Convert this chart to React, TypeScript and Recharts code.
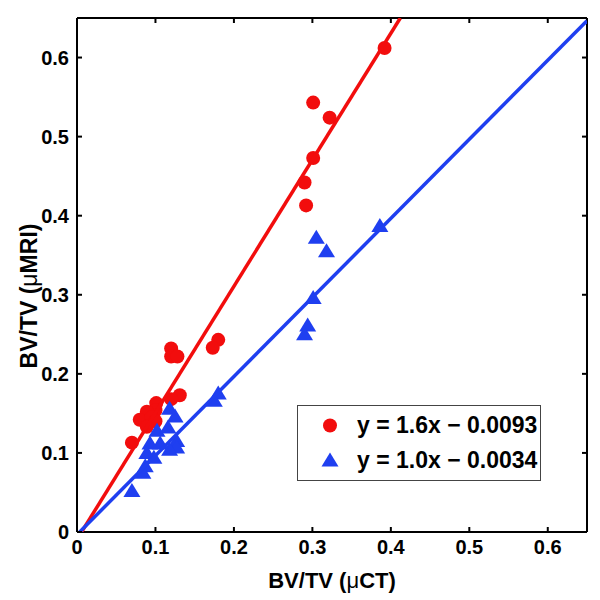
import { ScatterChart, Scatter, XAxis, YAxis, Legend } from "recharts";

const RED = "#f20d0d";
const BLUE = "#1f3ff0";
const FONT = "'Liberation Sans', Arial, sans-serif";

const xTicks = [0, 0.1, 0.2, 0.3, 0.4, 0.5, 0.6];
const yTicks = [0, 0.1, 0.2, 0.3, 0.4, 0.5, 0.6];

// BV/TV (µCT) vs BV/TV (µMRI), red circles
const mriPoints: [number, number][] = [
  [0.392, 0.612],
  [0.301, 0.543],
  [0.322, 0.524],
  [0.301, 0.473],
  [0.29, 0.442],
  [0.292, 0.413],
  [0.18, 0.243],
  [0.173, 0.233],
  [0.12, 0.232],
  [0.12, 0.222],
  [0.128, 0.222],
  [0.131, 0.173],
  [0.12, 0.168],
  [0.101, 0.163],
  [0.1, 0.154],
  [0.089, 0.152],
  [0.08, 0.142],
  [0.095, 0.145],
  [0.1, 0.14],
  [0.089, 0.133],
  [0.07, 0.113],
];

// blue triangles
const otherPoints: [number, number][] = [
  [0.386, 0.387],
  [0.305, 0.372],
  [0.318, 0.355],
  [0.301, 0.296],
  [0.294, 0.261],
  [0.29, 0.25],
  [0.18, 0.175],
  [0.175, 0.166],
  [0.118, 0.156],
  [0.125, 0.146],
  [0.102, 0.128],
  [0.116, 0.132],
  [0.127, 0.115],
  [0.127, 0.107],
  [0.118, 0.104],
  [0.106, 0.112],
  [0.093, 0.112],
  [0.089, 0.1],
  [0.098, 0.094],
  [0.087, 0.083],
  [0.084, 0.075],
  [0.07, 0.052],
];

const redFit = { slope: 1.6, intercept: -0.0093, label: "y = 1.6x \u2212 0.0093" };
const blueFit = { slope: 1.0, intercept: -0.0034, label: "y = 1.0x \u2212 0.0034" };

const MAX = 0.65;
const TICK_LEN = 5;
const BOTTOM_GAP = 7;
const LEFT_GAP = 8;

function fitSegment(f: { slope: number; intercept: number }) {
  const x0 = -f.intercept / f.slope;
  const x1 = Math.min(MAX, (MAX - f.intercept) / f.slope);
  return [
    { x: x0, y: 0 },
    { x: x1, y: f.slope * x1 + f.intercept },
  ];
}

const toXY = (pts: [number, number][]) => pts.map(([x, y]) => ({ x, y }));

function Circle(p: any) {
  if (p.cx == null) return <g />;
  return <circle cx={p.cx} cy={p.cy} r={7} fill={RED} />;
}

function Triangle(p: any) {
  if (p.cx == null) return <g />;
  const { cx, cy } = p;
  return <polygon points={`${cx},${cy - 8} ${cx + 8.5},${cy + 6} ${cx - 8.5},${cy + 6}`} fill={BLUE} />;
}

const Empty = () => <g />;

const fmt = (v: number) => (v === 0 ? "0" : v.toFixed(1));

// inside tick marks + labels (MATLAB style)
function BottomTick(p: any) {
  const { x, y, payload } = p;
  const axisY = y - BOTTOM_GAP;
  return (
    <g>
      <line x1={x} x2={x} y1={axisY} y2={axisY - TICK_LEN} stroke="#000" strokeWidth={2} />
      <text x={x} y={y} dy="0.75em" textAnchor="middle" fontFamily={FONT} fontWeight="bold" fontSize={20} fill="#000">
        {fmt(payload.value)}
      </text>
    </g>
  );
}

function LeftTick(p: any) {
  const { x, y, payload } = p;
  const axisX = x + LEFT_GAP;
  return (
    <g>
      <line x1={axisX} x2={axisX + TICK_LEN} y1={y} y2={y} stroke="#000" strokeWidth={2} />
      <text x={x} y={y} dy="0.36em" textAnchor="end" fontFamily={FONT} fontWeight="bold" fontSize={20} fill="#000">
        {fmt(payload.value)}
      </text>
    </g>
  );
}

function TopTick(p: any) {
  const { x, y } = p;
  return <line x1={x} x2={x} y1={y} y2={y + TICK_LEN} stroke="#000" strokeWidth={2} />;
}

function RightTick(p: any) {
  const { x, y } = p;
  return <line x1={x} x2={x - TICK_LEN} y1={y} y2={y} stroke="#000" strokeWidth={2} />;
}

function YTitle() {
  const cx = 21;
  const cy = 288;
  return (
    <text
      x={cx}
      y={cy}
      transform={`rotate(-90, ${cx}, ${cy})`}
      textAnchor="middle"
      dominantBaseline="central"
      fontFamily={FONT}
      fontWeight="bold"
      fontSize={23}
      fill="#000"
    >
      BV/TV (<tspan fontWeight="normal">μ</tspan>MRI)
    </text>
  );
}

function XTitle() {
  return (
    <text
      x={324}
      y={572}
      textAnchor="middle"
      dominantBaseline="central"
      fontFamily={FONT}
      fontWeight="bold"
      fontSize={22}
      fill="#000"
    >
      BV/TV (<tspan fontWeight="normal">μ</tspan>CT)
    </text>
  );
}

function FitLegend() {
  const rows = [
    { fit: redFit, marker: "circle" },
    { fit: blueFit, marker: "triangle" },
  ];
  return (
    <div
      style={{
        width: 242,
        height: 72,
        border: "1px solid #444",
        background: "#fff",
        boxSizing: "content-box",
        paddingTop: 2,
      }}
    >
      {rows.map((r) => (
        <div key={r.fit.label} style={{ display: "flex", alignItems: "center", height: 35 }}>
          <svg width={59} height={35} style={{ flex: "none" }}>
            {r.marker === "circle" ? (
              <circle cx={32} cy={17.5} r={7} fill={RED} />
            ) : (
              <polygon points="32,9.5 40.5,23.5 23.5,23.5" fill={BLUE} />
            )}
          </svg>
          <span style={{ fontFamily: FONT, fontWeight: "bold", fontSize: 23, color: "#000", whiteSpace: "nowrap" }}>
            {r.fit.label}
          </span>
        </div>
      ))}
    </div>
  );
}

const frame = { stroke: "#000", strokeWidth: 2 };

export default function App() {
  return (
    <div style={{ width: 592, height: 590, background: "#fff" }}>
      <ScatterChart width={592} height={590} margin={{ top: 9, right: 12, left: 19, bottom: 11 }}>
        <XAxis
          type="number"
          dataKey="x"
          domain={[0, MAX]}
          ticks={xTicks}
          allowDataOverflow
          height={55}
          tickSize={0}
          tickMargin={BOTTOM_GAP}
          axisLine={frame}
          tickLine={false}
          tick={<BottomTick />}
          label={<XTitle />}
        />
        <XAxis
          xAxisId="top"
          orientation="top"
          type="number"
          dataKey="x"
          domain={[0, MAX]}
          ticks={xTicks}
          allowDataOverflow
          height={1}
          tickSize={0}
          tickMargin={0}
          axisLine={frame}
          tickLine={false}
          tick={<TopTick />}
        />
        <YAxis
          type="number"
          dataKey="y"
          domain={[0, MAX]}
          ticks={yTicks}
          allowDataOverflow
          width={50}
          tickSize={0}
          tickMargin={LEFT_GAP}
          axisLine={frame}
          tickLine={false}
          tick={<LeftTick />}
          label={<YTitle />}
        />
        <YAxis
          yAxisId="right"
          orientation="right"
          type="number"
          dataKey="y"
          domain={[0, MAX]}
          ticks={yTicks}
          allowDataOverflow
          width={1}
          tickSize={0}
          tickMargin={0}
          axisLine={frame}
          tickLine={false}
          tick={<RightTick />}
        />
        <Scatter data={toXY(mriPoints)} shape={<Circle />} isAnimationActive={false} />
        <Scatter data={toXY(otherPoints)} shape={<Triangle />} isAnimationActive={false} />
        <Scatter
          data={fitSegment(redFit)}
          line={{ stroke: RED, strokeWidth: 3.5 }}
          shape={<Empty />}
          isAnimationActive={false}
        />
        <Scatter
          data={fitSegment(blueFit)}
          line={{ stroke: BLUE, strokeWidth: 3.5 }}
          shape={<Empty />}
          isAnimationActive={false}
        />
        <Legend
          layout="vertical"
          align="center"
          verticalAlign="middle"
          content={<FitLegend />}
          wrapperStyle={{ left: 289, top: 397, width: 244, height: 74 }}
        />
      </ScatterChart>
    </div>
  );
}
